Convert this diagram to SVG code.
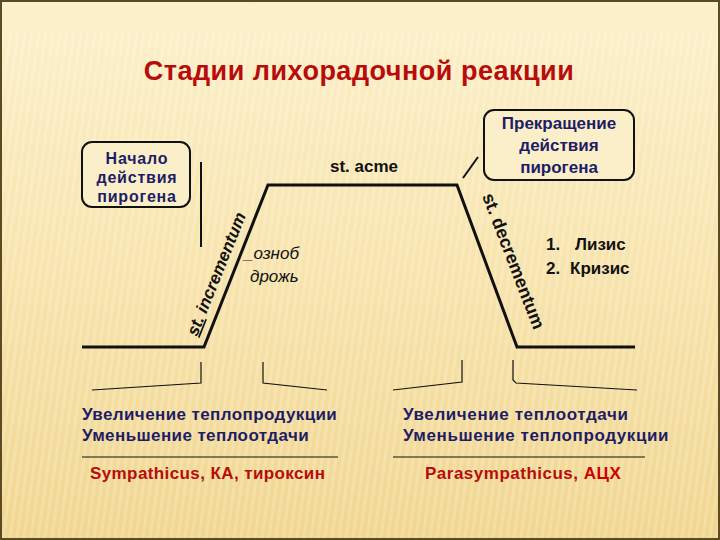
<svg xmlns="http://www.w3.org/2000/svg" width="720" height="540" viewBox="0 0 720 540">
<defs>
<linearGradient id="bg" x1="0" y1="0" x2="0" y2="1">
<stop offset="0" stop-color="#fcf1cc"/>
<stop offset="0.45" stop-color="#f8e5b0"/>
<stop offset="1" stop-color="#f0d690"/>
</linearGradient>
<linearGradient id="rule" x1="0" y1="0" x2="1" y2="0">
<stop offset="0" stop-color="#e8d2a0" stop-opacity="0"/>
<stop offset="0.2" stop-color="#d9b878"/>
<stop offset="1" stop-color="#e0c080"/>
</linearGradient>
<pattern id="stripes" width="7" height="540" patternUnits="userSpaceOnUse" patternTransform="skewX(-8)">
<rect x="0" y="0" width="3" height="540" fill="#ffffff" opacity="0.18"/>
</pattern>
<style>
.box{fill:#fbefc9;stroke:#111;stroke-width:2}
.navy{font-family:"Liberation Sans",Arial,sans-serif;font-weight:bold;fill:#1d1d66}
.blk{font-family:"Liberation Sans",Arial,sans-serif;font-weight:bold;fill:#111}
.red{font-family:"Liberation Sans",Arial,sans-serif;font-weight:bold;fill:#b80c0c}
.ln{stroke:#111;fill:none}
</style>
</defs>
<rect width="720" height="540" fill="url(#bg)"/>
<rect x="0" y="30" width="720" height="510" fill="url(#stripes)"/>
<rect x="1" y="1" width="718" height="538" fill="none" stroke="#5b4a22" stroke-width="2"/>
<line x1="55" y1="82" x2="718" y2="82" stroke="url(#rule)" stroke-width="2"/>

<g id="title">
<text x="359" y="80" text-anchor="middle" class="red" font-size="27" letter-spacing="0.5" fill="#b50d0d">Стадии лихорадочной реакции</text>
</g>

<g id="start-box">
<rect x="82" y="142" width="108" height="65" rx="10" class="box"/>
<text class="navy" font-size="16" letter-spacing="0.8" text-anchor="middle"><tspan x="137" y="164">Начало</tspan><tspan x="137" y="183">действия</tspan><tspan x="137" y="202">пирогена</tspan></text>
</g>

<g id="stop-box">
<rect x="484" y="110" width="150" height="70" rx="10" class="box"/>
<text class="navy" font-size="17" text-anchor="middle"><tspan x="559" y="129">Прекращение</tspan><tspan x="559" y="151">действия</tspan><tspan x="559" y="173">пирогена</tspan></text>
</g>

<g id="connectors">
<polyline class="ln" stroke-width="3" points="82,347 204,347 268,185 457,185 517,347 635,347"/>
<line class="ln" stroke-width="2" x1="201" y1="162" x2="201" y2="247"/>
<line class="ln" stroke-width="2" x1="463" y1="178" x2="478" y2="157"/>
<polyline class="ln" stroke-width="1.2" points="201,362 201,383 92,390"/>
<polyline class="ln" stroke-width="1.2" points="263,362 263,383 327,390"/>
<polyline class="ln" stroke-width="1.2" points="462,360 462,382 393,390"/>
<polyline class="ln" stroke-width="1.2" points="513,360 513,380 516,383 637,390"/>
<line class="ln" stroke-width="1" x1="82" y1="457" x2="338" y2="457"/>
<line class="ln" stroke-width="1" x1="393" y1="457" x2="645" y2="457"/>
</g>

<g id="stage-labels">
<text x="364" y="172" text-anchor="middle" class="blk" font-size="17">st. acme</text>
<text transform="translate(197,337) rotate(-68)" class="blk" font-size="17" font-style="italic"><tspan text-decoration="underline">st.</tspan> incrementum</text>
<text transform="translate(482,196) rotate(69)" class="blk" font-size="18">st. decrementum</text>
<text font-family="Liberation Sans,Arial,sans-serif" font-style="italic" font-size="17" fill="#111"><tspan x="244" y="259">_озноб</tspan><tspan x="250" y="282">дрожь</tspan></text>
<text class="blk" font-size="17"><tspan x="546" y="250">1.</tspan><tspan x="575" y="250">Лизис</tspan><tspan x="546" y="274">2.</tspan><tspan x="570" y="274">Кризис</tspan></text>
</g>

<g id="left-text">
<text class="navy" font-size="17" letter-spacing="0.4"><tspan x="82" y="420">Увеличение теплопродукции</tspan><tspan x="82" y="441">Уменьшение теплоотдачи</tspan></text>
<text x="90" y="479" class="red" font-size="17" letter-spacing="0.4">Sympathicus, КА, тироксин</text>
</g>

<g id="right-text">
<text class="navy" font-size="17" letter-spacing="0.6"><tspan x="403" y="420">Увеличение теплоотдачи</tspan><tspan x="403" y="441">Уменьшение теплопродукции</tspan></text>
<text x="425" y="479" class="red" font-size="17" letter-spacing="0.5">Parasympathicus, <tspan fill="#d00000">АЦХ</tspan></text>
</g>
</svg>
